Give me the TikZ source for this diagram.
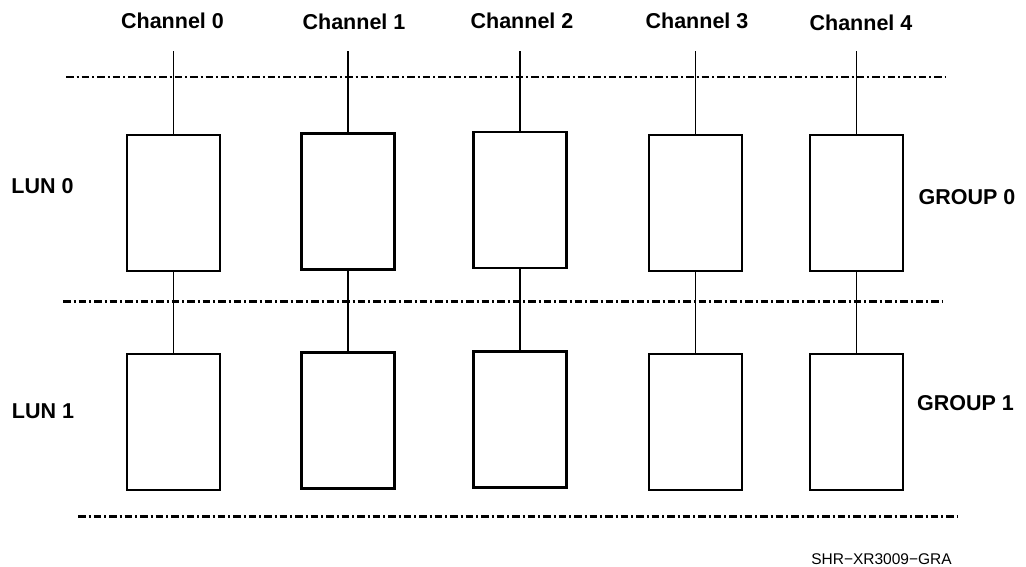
\documentclass[tikz,border=0pt]{standalone}
\usepackage{fontspec}
\setmainfont{Liberation Sans}
\tikzset{
	disk/.style={draw, line width=2.4pt, minimum width=93pt, minimum height=136pt, inner sep=0pt},
	link/.style={line width=1.8pt},
	boundary/.style={line width=2.2pt, dash pattern=on 7.5pt off 3pt on 2pt off 3pt},
	bold label/.style={font=\fontsize{21.5}{24}\selectfont\bfseries, anchor=base, inner sep=0pt},
	tag label/.style={font=\fontsize{15.5}{18}\selectfont, anchor=base, inner sep=0pt}
}
\begin{document}
\begin{tikzpicture}[x=1pt,y=-1pt]
		\useasboundingbox (0,0) rectangle (1026,566);
		\draw[boundary] (66,77) -- (946,77);
		\draw[boundary] (63,301.5) -- (943,301.5);
		\draw[boundary] (78,516.5) -- (958,516.5);
		\foreach \i/\x/\ya/\yb in {0/173.5/203/422, 1/348/201.5/420.5, 2/520/200/419.5, 3/695.5/203/422, 4/856.5/203/422}{
			\node[disk] (lun0-\i) at (\x,\ya) {};
			\node[disk] (lun1-\i) at (\x,\yb) {};
			\coordinate (bus\i) at (\x,51);
			\draw[link] (bus\i) -- (lun0-\i);
			\draw[link] (lun0-\i) -- (lun1-\i);
		}
		\foreach \i/\x/\y in {0/172.5/28.5, 1/354/29.5, 2/522/28.5, 3/697/28.5, 4/861/30.5}
			\node[bold label] (ch\i) at (\x,\y) {Channel \i};
		\node[bold label] (lun0) at (42.5,193.3) {LUN 0};
		\node[bold label] (lun1) at (43,418.3) {LUN 1};
		\node[bold label] (group0) at (967,204) {GROUP 0};
		\node[bold label] (group1) at (965.5,410.7) {GROUP 1};
		\node[tag label] (tag) at (881.5,564) {SHR−XR3009−GRA};
	\end{tikzpicture}
\end{document}
